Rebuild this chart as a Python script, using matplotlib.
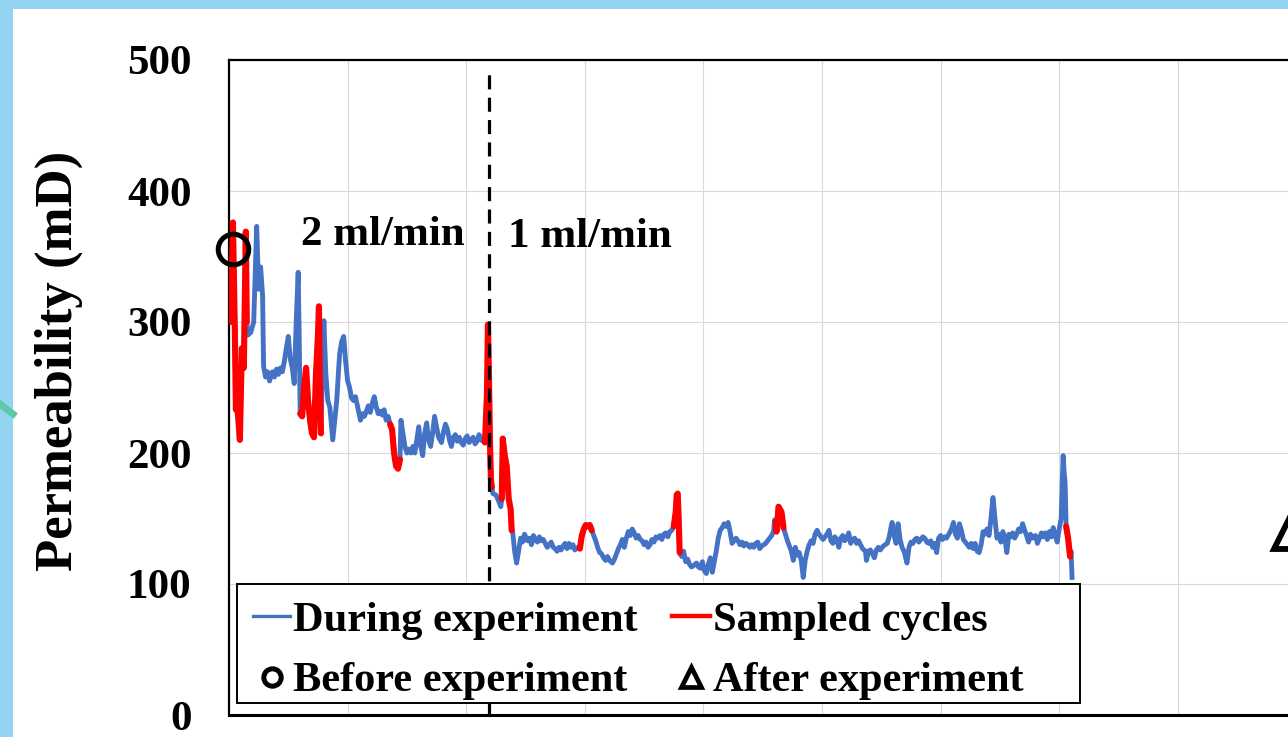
import numpy as np
import matplotlib
matplotlib.use("Agg")
import matplotlib.pyplot as plt
from matplotlib.lines import Line2D
from matplotlib.patches import Rectangle

# ---------------- data ----------------
time_min = [
    2, 4, 6, 7, 8, 9, 11, 13, 15, 17, 18, 19, 22, 25, 28, 30, 32, 34, 35, 37, 39, 41,
    44, 46, 48, 50, 52, 54, 56, 58, 60, 62, 64, 66, 68, 70, 71, 72, 74, 76, 78, 80, 82,
    84, 86, 88, 90, 91, 92, 93, 94, 96, 98, 100, 102, 105, 107, 109, 111, 112, 114, 116,
    118, 120, 122, 124, 126, 128, 131, 133, 135, 137, 139, 141, 143, 145, 147, 149, 151,
    153, 155, 157, 159, 161, 163, 165, 167, 169, 171, 173, 174, 176, 178, 180, 182, 184,
    186, 188, 190, 192, 194, 196, 198, 200, 202, 204, 206, 208, 210, 212, 215, 217, 219,
    221, 223, 225, 227, 229, 231, 233, 235, 237, 239, 241, 243, 245, 247, 249, 251, 253,
    255, 257, 259, 261, 262, 263, 264, 265, 266, 267, 270, 273, 275, 276, 277, 279, 281,
    283, 285, 286, 287, 289, 291, 293, 295, 297, 299, 302, 304, 306, 308, 310, 312, 314,
    316, 318, 320, 322, 324, 326, 328, 330, 332, 334, 336, 338, 340, 342, 344, 346, 348,
    350, 353, 355, 357, 359, 361, 363, 365, 367, 369, 371, 373, 375, 377, 379, 381, 383,
    385, 388, 390, 392, 394, 396, 398, 400, 402, 404, 406, 408, 410, 412, 414, 416, 418,
    420, 422, 424, 426, 428, 430, 432, 434, 436, 438, 440, 442, 444, 446, 448, 450, 452,
    453, 454, 455, 456, 458, 460, 462, 464, 466, 468, 470, 473, 475, 477, 479, 481, 483,
    485, 487, 489, 491, 493, 495, 497, 499, 501, 503, 505, 507, 509, 511, 513, 515, 517,
    519, 521, 523, 525, 527, 529, 531, 533, 535, 537, 539, 541, 543, 545, 547, 549, 551,
    552, 553, 554, 556, 559, 561, 563, 565, 567, 569, 571, 573, 575, 577, 579, 581, 583,
    585, 587, 589, 591, 593, 595, 597, 599, 601, 603, 605, 607, 609, 611, 613, 615, 617,
    619, 621, 623, 625, 627, 629, 631, 633, 635, 637, 639, 641, 644, 645, 647, 649, 651,
    653, 655, 657, 659, 662, 664, 666, 668, 670, 671, 673, 675, 677, 679, 681, 683, 686,
    688, 690, 692, 694, 696, 698, 700, 702, 704, 706, 708, 710, 712, 714, 716, 718, 720,
    722, 724, 726, 729, 731, 733, 735, 737, 739, 741, 743, 745, 747, 749, 751, 753, 755,
    757, 759, 761, 763, 765, 767, 769, 771, 773, 775, 777, 779, 781, 783, 785, 787, 789,
    791, 793, 795, 797, 799, 801, 803, 805, 807, 809, 811, 813, 816, 818, 820, 822, 824,
    826, 828, 830, 832, 834, 836, 838, 840, 842, 844, 845, 846, 847, 849, 851, 852, 853,
]
permeability_md = [
    300, 376, 290, 233, 260, 230, 210, 280, 265, 369, 300, 290, 292, 300, 373, 325, 342,
    320, 266, 258, 262, 255, 262, 258, 264, 260, 265, 262, 270, 280, 289, 272, 265, 253,
    300, 338, 290, 230, 228, 250, 265, 240, 225, 215, 212, 260, 290, 312, 250, 215, 245,
    301, 260, 240, 235, 210, 225, 240, 265, 276, 285, 289, 270, 255, 250, 242, 240, 243,
    232, 225, 230, 228, 232, 236, 231, 238, 243, 235, 230, 232, 229, 233, 225, 228, 222,
    218, 200, 190, 188, 195, 225, 215, 205, 200, 203, 200, 205, 200, 210, 220, 205, 198,
    215, 223, 210, 205, 215, 228, 220, 212, 208, 216, 222, 218, 210, 205, 212, 214, 209,
    212, 208, 206, 211, 213, 208, 210, 212, 207, 209, 214, 210, 209, 208, 245, 298, 260,
    210, 180, 174, 169, 168, 163, 159, 165, 211, 198, 190, 165, 157, 141, 140, 125, 116,
    125, 135, 132, 138, 133, 135, 130, 137, 134, 132, 136, 133, 134, 131, 128, 130, 132,
    128, 127, 125, 128, 126, 129, 131, 127, 131, 128, 130, 126, 128, 127, 137, 142, 145,
    144, 145, 141, 137, 133, 128, 124, 123, 120, 118, 121, 118, 116, 119, 123, 127, 130,
    134, 128, 135, 140, 137, 142, 139, 135, 137, 134, 133, 130, 132, 128, 130, 134, 132,
    136, 135, 137, 134, 138, 139, 136, 140, 141, 144, 155, 168, 169, 150, 124, 121, 125,
    117, 119, 115, 113, 114, 116, 113, 112, 117, 110, 108, 115, 120, 109, 117, 125, 135,
    141, 143, 146, 144, 147, 140, 131, 133, 135, 133, 130, 132, 129, 131, 130, 128, 130,
    128, 131, 132, 127, 129, 130, 131, 133, 135, 137, 140, 149, 147, 140, 159, 155, 143,
    138, 133, 129, 125, 118, 128, 122, 124, 118, 105, 118, 125, 130, 133, 131, 138, 141,
    138, 136, 134, 136, 138, 141, 133, 131, 136, 134, 128, 135, 137, 133, 135, 139, 131,
    134, 135, 131, 133, 130, 127, 125, 118, 125, 126, 123, 120, 126, 128, 126, 129, 130,
    131, 136, 144, 147, 137, 131, 146, 134, 128, 125, 116, 128, 132, 131, 134, 135, 132,
    134, 136, 135, 132, 131, 133, 128, 131, 124, 135, 137, 134, 136, 135, 139, 142, 147,
    138, 135, 146, 141, 134, 132, 130, 128, 131, 127, 131, 125, 124, 130, 140, 138, 142,
    137, 150, 166, 150, 135, 138, 132, 140, 135, 124, 138, 136, 139, 135, 138, 142, 140,
    146, 141, 137, 132, 138, 135, 137, 131, 135, 139, 136, 139, 134, 140, 136, 143, 137,
    132, 142, 150, 198, 185, 177, 144, 135, 121, 125, 105,
]
# sampled cycles: (start, end) in minutes
sampled_start = [2, 72, 163, 259, 276, 355, 450, 553, 847]
sampled_end = [18, 93, 173, 266, 286, 367, 456, 561, 851]

before_time = [4]
before_perm = [356]
after_time = [1075]
after_perm = [140]

rate_change_time = 263
rate_labels = ["2 ml/min", "1 ml/min"]
rate_label_time = [156, 365]
rate_label_perm = [359, 357]

y_ticks = [0, 100, 200, 300, 400, 500]

# ---------------- style ----------------
BLUE = "#4472C4"
RED = "#FF0000"
SERIF = ["Liberation Serif", "DejaVu Serif"]
plt.rcParams["font.family"] = SERIF
plt.rcParams["font.weight"] = "bold"
FS = 31
FS_LEG = 30.5

W, H = 1288, 737
fig = plt.figure(figsize=(W / 100, H / 100), dpi=100)
fig.patch.set_facecolor("white")

# axes: left spine at x=229 px, top 60 px, bottom 715 px; 120 min = 118.6 px
x_max = 1200
ax_w_px = 118.6 * x_max / 120
ax = fig.add_axes([229 / W, (H - 715) / H, ax_w_px / W, (715 - 60) / H])

t = np.array(time_min, dtype=float)
p = np.array(permeability_md, dtype=float)

ax.plot(t, p, color=BLUE, lw=3.5, solid_joinstyle="round", zorder=3)
for s, e in zip(sampled_start, sampled_end):
    m = (t >= s) & (t <= e)
    ax.plot(t[m], p[m], color=RED, lw=4.4, solid_joinstyle="round",
            solid_capstyle="round", zorder=4)

ax.plot([rate_change_time, rate_change_time], [0, 492], color="black", lw=2.3,
        dashes=(4.4, 2.6), zorder=5)

ax.plot(before_time, before_perm, marker="o", ls="none", ms=22, mfc="none",
        mec="black", mew=3.6, clip_on=False, zorder=6)
ax.plot(after_time, after_perm, marker="^", ls="none", ms=25, mfc="none",
        mec="black", mew=4.2, clip_on=False, zorder=6)

for lab, lx, ly in zip(rate_labels, rate_label_time, rate_label_perm):
    ax.text(lx, ly, lab, fontsize=FS, fontweight="bold", ha="center",
            va="baseline", zorder=7)

ax.set_xlim(0, x_max)
ax.set_ylim(0, 500)
ax.set_yticks(y_ticks)
ax.set_yticklabels([str(v) for v in y_ticks], fontsize=FS, fontweight="bold")
ax.set_xticks(np.arange(0, x_max + 1, 120))
ax.set_xticklabels([])
ax.tick_params(axis="both", length=0)
ax.tick_params(axis="y", pad=27)
ax.grid(True, color="#d9d9d9", lw=0.8, zorder=0)
ax.set_axisbelow(True)
for side, lw in [("left", 1.6), ("top", 1.6), ("bottom", 2.2), ("right", 1.6)]:
    ax.spines[side].set_linewidth(lw)
    ax.spines[side].set_color("black")

fig.text(59 / W, 1 - 361 / H, "Permeability (mD)", rotation=90, fontsize=38,
         fontweight="bold", ha="center", va="center")

# legend frame (white box covering grid / dashed line) and legend
frame = Rectangle((237 / W, 1 - 703 / H), (1080 - 237) / W, (703 - 584) / H,
                  transform=fig.transFigure, facecolor="white",
                  edgecolor="black", lw=1.4, zorder=20, clip_on=False)
ax.add_patch(frame)
h_during = Line2D([], [], color=BLUE, lw=2.4)
h_sampled = Line2D([], [], color=RED, lw=3.2)
h_before = Line2D([], [], ls="none", marker="o", ms=12.5, mfc="none", mec="black", mew=3.6)
h_after = Line2D([], [], ls="none", marker="^", ms=15, mfc="none", mec="black", mew=3.4)
leg = ax.legend([h_during, h_before, h_sampled, h_after],
                ["During experiment", "Before experiment", "Sampled cycles",
                 "After experiment"],
                ncol=2, loc="upper left", bbox_to_anchor=(253 / W, 1 - 601 / H),
                bbox_transform=fig.transFigure, frameon=False, borderpad=0,
                borderaxespad=0, handlelength=0.88, handletextpad=0.07,
                columnspacing=0.82, labelspacing=0.52,
                prop={"family": SERIF, "weight": "bold", "size": FS_LEG})
leg.set_zorder(21)

# slide decoration: light-blue border top/left and a teal stroke
deco = "#93D5F0"
fig.add_artist(Rectangle((0, 0), 13 / W, 1, transform=fig.transFigure,
                         facecolor=deco, edgecolor="none", zorder=30))
fig.add_artist(Rectangle((0, 1 - 9 / H), 1, 9 / H, transform=fig.transFigure,
                         facecolor=deco, edgecolor="none", zorder=30))
fig.add_artist(Line2D([0, 13 / W], [1 - 404 / H, 1 - 414 / H], transform=fig.transFigure,
                      color="#5CC9A7", lw=5, zorder=31))

fig.savefig("out.png", dpi=100)
